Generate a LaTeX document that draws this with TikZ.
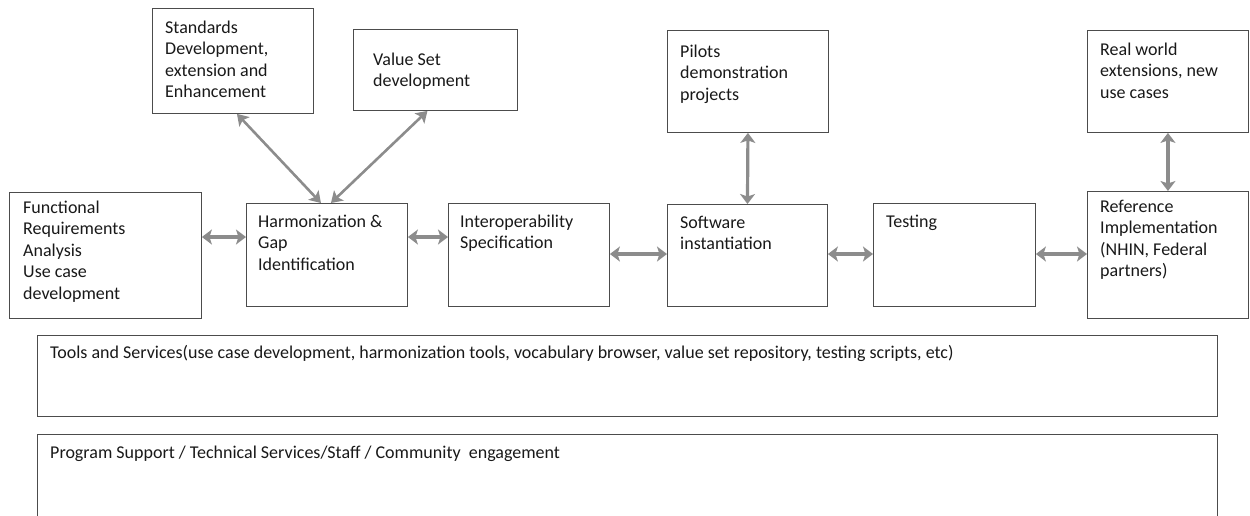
\documentclass[tikz,border=0pt]{standalone}
\usepackage{fontspec}
\setmainfont{Carlito}
\usetikzlibrary{arrows.meta,calc}

% top-aligned block of lines whose baseline is that of its first line
\newcommand{\boxlines}[1]{\parbox[t]{230pt}{\raggedright #1}}

\begin{document}
\begin{tikzpicture}[x=1pt,y=-1pt,
  box/.style={draw=black!70, line width=0.9pt, fill=white, rectangle, inner sep=0pt, anchor=north west},
  txt/.style={anchor=base west, inner sep=0pt, font=\fontsize{18}{21.5}\selectfont, text=black!90},
  link/.style={draw=black!45, line width=3.2pt,
    {Stealth[length=10pt,width=15pt,inset=2.5pt]}-{Stealth[length=10pt,width=15pt,inset=2.5pt]}},
  slant/.style={draw=black!45, line width=2.6pt,
    {Stealth[length=11pt,width=14pt,inset=2.5pt]}-{Stealth[length=11pt,width=14pt,inset=2.5pt]}},
]
\useasboundingbox (0,0) rectangle (1250,515);

% upper row of boxes
\node[box, minimum width=161pt, minimum height=105pt] (std) at (152,8) {};
\node[box, minimum width=164pt, minimum height=81pt]  (val) at (353,29) {};
\node[box, minimum width=161pt, minimum height=102pt] (pil) at (667,30) {};
\node[box, minimum width=161pt, minimum height=102pt] (rw)  at (1087,30) {};

% main process row
\node[box, minimum width=192pt, minimum height=126pt] (fun) at (9,192) {};
\node[box, minimum width=161pt, minimum height=103pt] (har) at (246,203) {};
\node[box, minimum width=161pt, minimum height=103pt] (int) at (448,203) {};
\node[box, minimum width=160pt, minimum height=102pt] (sw)  at (667,204) {};
\node[box, minimum width=162pt, minimum height=103pt] (tst) at (873,203) {};
\node[box, minimum width=161pt, minimum height=127pt] (ref) at (1087,191) {};

% wide support bands
\node[box, minimum width=1180pt, minimum height=81pt] (tools) at (37,335) {};
\node[box, minimum width=1180pt, minimum height=86pt] (prog)  at (37,434) {};

% box texts
\node[txt] (stdT) at ($(std.north west)+(13,25)$) {\boxlines{Standards\\Development,\\extension and\\Enhancement}};
\node[txt] (valT) at ($(val.north west)+(20,36)$) {\boxlines{Value Set\\development}};
\node[txt] (pilT) at ($(pil.north west)+(13,27)$) {\boxlines{Pilots\\demonstration\\projects}};
\node[txt] (rwT)  at ($(rw.north west)+(13,25)$)  {\boxlines{Real world\\extensions, new\\use cases}};
\node[txt] (funT) at ($(fun.north west)+(14,21)$) {\boxlines{Functional\\Requirements\\Analysis\\Use case\\development}};
\node[txt] (harT) at ($(har.north west)+(12,24)$) {\boxlines{Harmonization \&\\Gap\\Identification}};
\node[txt] (intT) at ($(int.north west)+(12,24)$) {\boxlines{Interoperability\\Specification}};
\node[txt] (swT)  at ($(sw.north west)+(13,24)$)  {\boxlines{Software\\instantiation}};
\node[txt] (tstT) at ($(tst.north west)+(13,24)$) {\boxlines{Testing}};
\node[txt] (refT) at ($(ref.north west)+(13,21)$) {\boxlines{Reference\\Implementation\\(NHIN, Federal\\partners)}};
\node[txt] (toolsT) at ($(tools.north west)+(13,23)$) {Tools and Services(use case development, harmonization tools, vocabulary browser, value set repository, testing scripts, etc)};
\node[txt] (progT)  at ($(prog.north west)+(13,24)$)  {Program Support / Technical Services/Staff / Community\ \ engagement};

% connector rows
\coordinate (rowA) at (0,237);
\coordinate (rowB) at (0,254);

\draw[link] (fun.east |- rowA) -- (har.west |- rowA);
\draw[link] (har.east |- rowA) -- (int.west |- rowA);
\draw[link] (int.east |- rowB) -- (sw.west |- rowB);
\draw[link] (sw.east |- rowB) -- (tst.west |- rowB);
\draw[link] (tst.east |- rowB) -- (ref.west |- rowB);

\draw[link] (pil.south) -- (sw.north);
\draw[link] (rw.south) -- (ref.north);

\draw[slant] ([xshift=4pt]std.south) -- ([xshift=-6pt]har.north);
\draw[slant] ([xshift=-8pt]val.south) -- ([xshift=4pt]har.north);
\end{tikzpicture}
\end{document}
